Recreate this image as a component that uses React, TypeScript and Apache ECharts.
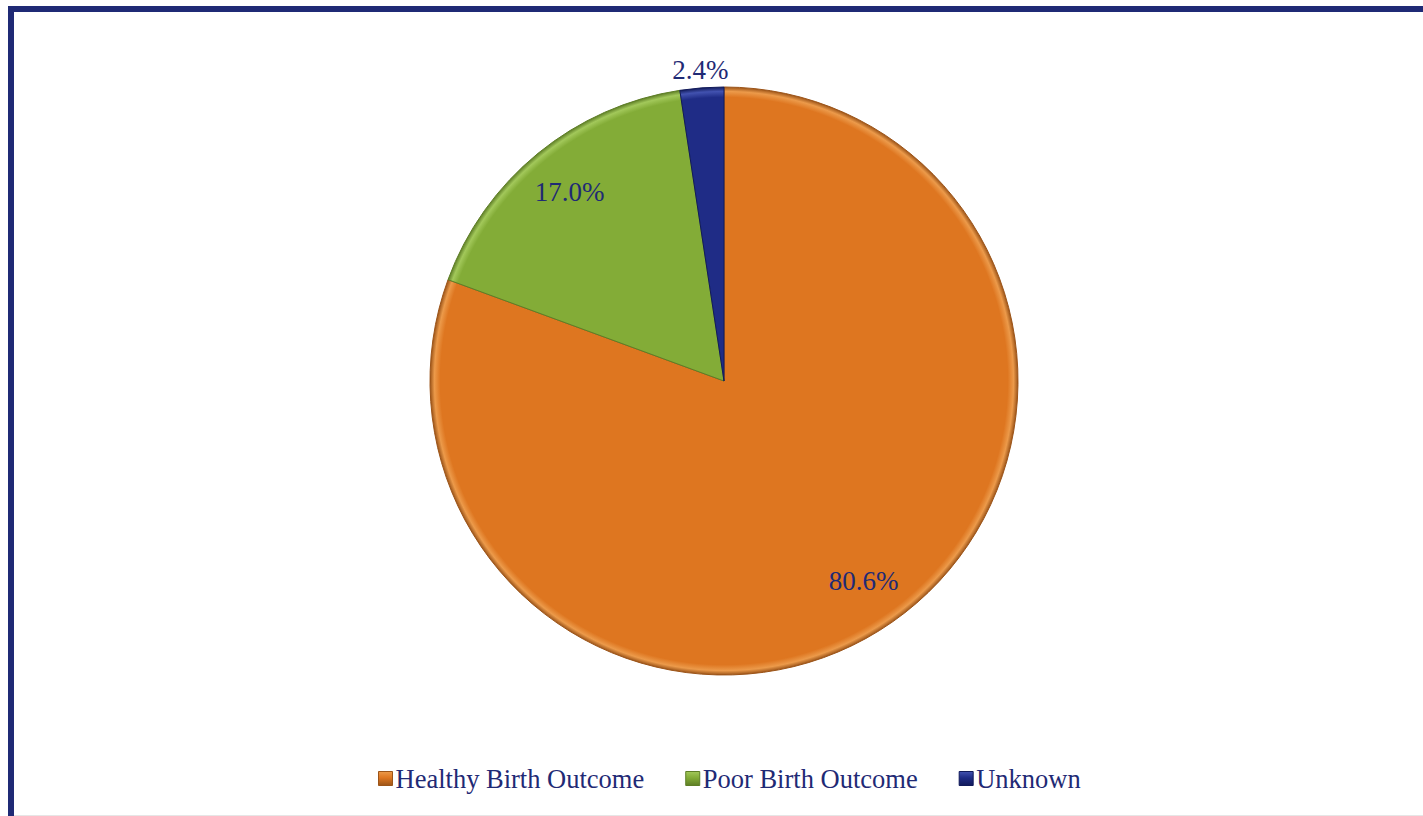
import React, { useEffect, useRef } from "react";
import * as echarts from "echarts";

const categories = ["Healthy Birth Outcome", "Poor Birth Outcome", "Unknown"];
const values = [80.6, 17.0, 2.4];
const baseColors = ["#DE7620", "#83AC37", "#1F2C86"];
const rimColors = ["#9C5418", "#5E7E26", "#111A5A"];
const lightColors = ["#EC9A4A", "#A2C85A", "#4252B0"];

const NAVY = "#1F2A75";
const FONT = "'Liberation Serif', 'Times New Roman', serif";
const CX = 724;
const CY = 381;
const R = 294;

function radial(i: number) {
  return new echarts.graphic.RadialGradient(
    CX,
    CY,
    R,
    [
      { offset: 0, color: baseColors[i] },
      { offset: 0.965, color: baseColors[i] },
      { offset: 0.985, color: lightColors[i] },
      { offset: 1, color: rimColors[i] },
    ],
    true
  );
}

function iconGradient(i: number) {
  return new echarts.graphic.LinearGradient(0, 0, 0, 1, [
    { offset: 0, color: lightColors[i] },
    { offset: 0.45, color: baseColors[i] },
    { offset: 1, color: rimColors[i] },
  ]);
}

export default function App() {
  const ref = useRef<HTMLDivElement>(null);
  useEffect(() => {
    if (!ref.current) return;
    const chart = echarts.init(ref.current, null, { renderer: "svg" });
    const mainData = categories.map((name, i) => ({
      name,
      value: values[i],
      itemStyle: {
        color: radial(i),
        borderColor: rimColors[i],
        borderWidth: 1,
      },
    }));
    const fmt = (p: any) => Number(p.value).toFixed(1) + "%";
    const labelStyle = {
      color: NAVY,
      fontFamily: FONT,
      fontSize: 27,
      formatter: fmt,
    };
    const helperData = (showIdx: number[]) =>
      categories.map((name, i) => ({
        name,
        value: values[i],
        itemStyle: { color: "rgba(0,0,0,0)" },
        label: { show: showIdx.includes(i) },
      }));
    chart.setOption({
      animation: false,
      backgroundColor: "#ffffff",
      graphic: [
        {
          type: "rect",
          shape: { x: 11, y: 9, width: 1440, height: 840 },
          style: { fill: "none", stroke: NAVY, lineWidth: 6 },
          silent: true,
        },
        {
          type: "line",
          shape: { x1: 14, y1: 815.5, x2: 1423, y2: 815.5 },
          style: { stroke: "#e6e6e6", lineWidth: 1 },
          silent: true,
        },
      ],
      legend: {
        data: categories.map((name, i) => ({
          name,
          itemStyle: {
            color: iconGradient(i),
            borderColor: rimColors[i],
            borderWidth: 1,
          },
        })),
        left: 373,
        top: 760,
        itemWidth: 14,
        itemHeight: 14,
        itemGap: 41,
        icon: "rect",
        textStyle: {
          color: NAVY,
          fontFamily: FONT,
          fontSize: 26.5,
          padding: [0, 0, 0, -2],
        },
      },
      series: [
        {
          name: "main",
          type: "pie",
          center: [CX, CY],
          radius: R,
          startAngle: 90,
          clockwise: true,
          silent: true,
          label: { show: false },
          labelLine: { show: false },
          data: mainData,
        },
        {
          name: "innerLabels",
          type: "pie",
          center: [CX, CY],
          radius: [231, 251],
          startAngle: 90,
          clockwise: true,
          silent: true,
          legendHoverLink: false,
          label: { ...labelStyle, position: "inside" },
          labelLine: { show: false },
          data: helperData([0, 1]),
        },
        {
          name: "outerLabels",
          type: "pie",
          center: [CX, CY],
          radius: [299, 319],
          startAngle: 90,
          clockwise: true,
          silent: true,
          legendHoverLink: false,
          label: { ...labelStyle, position: "inside" },
          labelLine: { show: false },
          data: helperData([2]),
        },
      ],
    });
    return () => chart.dispose();
  }, []);
  return (
    <div
      ref={ref}
      style={{ position: "fixed", left: 0, top: 0, width: 1423, height: 816 }}
    />
  );
}
